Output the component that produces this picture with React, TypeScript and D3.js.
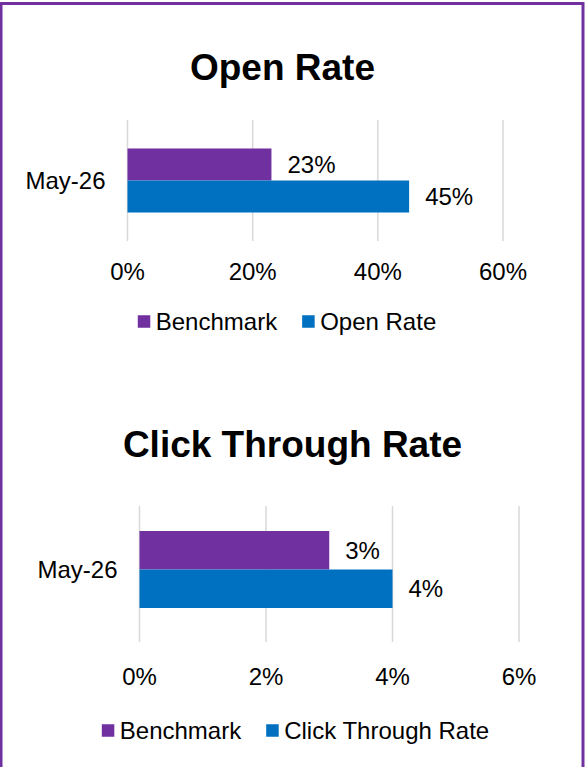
import React, { useEffect, useRef } from "react";
import * as d3 from "d3";

const categories = ["May-26"];
const seriesNames1 = ["Benchmark", "Open Rate"];
const openRateValues = [0.23, 0.45];
const openTicks = [0, 0.2, 0.4, 0.6];

const seriesNames2 = ["Benchmark", "Click Through Rate"];
const ctrValues = [0.03, 0.04];
const ctrTicks = [0, 0.02, 0.04, 0.06];

const colors = ["#7030A0", "#0070C0"];

type ChartCfg = {
  title: string;
  titleX: number;
  titleY: number;
  series: string[];
  values: number[];
  ticks: number[];
  xRange: [number, number];
  bandRange: [number, number];
  bandPad: number;
  gridTop: number;
  gridBottom: number;
  tickY: number;
  legendCx: number;
  legendCy: number;
};

const charts: ChartCfg[] = [
  {
    title: "Open Rate",
    titleX: 282.5,
    titleY: 80,
    series: seriesNames1,
    values: openRateValues,
    ticks: openTicks,
    xRange: [127.5, 503],
    bandRange: [120, 241],
    bandPad: 0.445,
    gridTop: 120,
    gridBottom: 241,
    tickY: 271,
    legendCx: 287,
    legendCy: 321.5,
  },
  {
    title: "Click Through Rate",
    titleX: 292.5,
    titleY: 457,
    series: seriesNames2,
    values: ctrValues,
    ticks: ctrTicks,
    xRange: [139.5, 519],
    bandRange: [506, 633],
    bandPad: 0.325,
    gridTop: 506,
    gridBottom: 642,
    tickY: 676,
    legendCx: 295.5,
    legendCy: 730.5,
  },
];

const FONT = "'Liberation Sans', Arial, sans-serif";
const FS = 24;

export default function App() {
  const ref = useRef<SVGSVGElement>(null);

  useEffect(() => {
    const svg = d3.select(ref.current);
    svg.selectAll("*").remove();

    svg
      .append("rect")
      .attr("x", 1)
      .attr("y", 3.5)
      .attr("width", 582)
      .attr("height", 800)
      .attr("fill", "#fff")
      .attr("stroke", "#7030A0")
      .attr("stroke-width", 3);

    charts.forEach((c) => {
      const g = svg.append("g");
      const x = d3.scaleLinear().domain([c.ticks[0], c.ticks[c.ticks.length - 1]]).range(c.xRange);
      const y = d3
        .scaleBand<string>()
        .domain(categories)
        .range(c.bandRange)
        .paddingInner(0)
        .paddingOuter(c.bandPad);
      const ys = d3.scaleBand<string>().domain(c.series).range([0, y.bandwidth()]);
      const fmt = d3.format(".0%");

      g.append("text")
        .attr("x", c.titleX)
        .attr("y", c.titleY)
        .attr("text-anchor", "middle")
        .attr("font-family", FONT)
        .attr("font-weight", "bold")
        .attr("font-size", 37)
        .attr("fill", "#000")
        .text(c.title);

      g.selectAll("line.grid")
        .data(c.ticks)
        .enter()
        .append("line")
        .attr("x1", (d) => x(d))
        .attr("x2", (d) => x(d))
        .attr("y1", c.gridTop)
        .attr("y2", c.gridBottom)
        .attr("stroke", "#d9d9d9")
        .attr("stroke-width", 1.5);

      g.selectAll("text.tick")
        .data(c.ticks)
        .enter()
        .append("text")
        .attr("x", (d) => x(d))
        .attr("y", c.tickY)
        .attr("text-anchor", "middle")
        .attr("dominant-baseline", "central")
        .attr("font-family", FONT)
        .attr("font-size", FS)
        .attr("fill", "#000")
        .text((d) => fmt(d));

      categories.forEach((cat) => {
        g.append("text")
          .attr("x", x(0) - 22)
          .attr("y", (y(cat) as number) + y.bandwidth() / 2)
          .attr("text-anchor", "end")
          .attr("dominant-baseline", "central")
          .attr("font-family", FONT)
          .attr("font-size", FS)
          .attr("fill", "#000")
          .text(cat);

        c.series.forEach((s, i) => {
          const by = (y(cat) as number) + (ys(s) as number);
          g.append("rect")
            .attr("x", x(0))
            .attr("y", by)
            .attr("width", x(c.values[i]) - x(0))
            .attr("height", ys.bandwidth())
            .attr("fill", colors[i]);
          g.append("text")
            .attr("x", x(c.values[i]) + 16)
            .attr("y", by + ys.bandwidth() / 2)
            .attr("dominant-baseline", "central")
            .attr("font-family", FONT)
            .attr("font-size", FS)
            .attr("fill", "#000")
            .text(fmt(c.values[i]));
        });
      });

      const lg = g.append("g");
      const sq = 12.5;
      const gapText = 5.5;
      const gapItem = 25;
      const items = c.series.map((s, i) => {
        const ig = lg.append("g");
        ig.append("rect")
          .attr("x", 0)
          .attr("y", c.legendCy - sq / 2)
          .attr("width", sq)
          .attr("height", sq)
          .attr("fill", colors[i]);
        const t = ig
          .append("text")
          .attr("x", sq + gapText)
          .attr("y", c.legendCy)
          .attr("dominant-baseline", "central")
          .attr("font-family", FONT)
          .attr("font-size", FS)
          .attr("fill", "#000")
          .text(s);
        const w = (t.node() as SVGTextElement).getComputedTextLength();
        return { ig, w: sq + gapText + w };
      });
      const total = items.reduce((a, b) => a + b.w, 0) + gapItem * (items.length - 1);
      let cx = c.legendCx - total / 2;
      items.forEach((it) => {
        it.ig.attr("transform", `translate(${cx},0)`);
        cx += it.w + gapItem;
      });
    });
  }, []);

  return (
    <svg
      ref={ref}
      width={586}
      height={767}
      style={{ position: "absolute", left: 0, top: 0, display: "block" }}
    />
  );
}
